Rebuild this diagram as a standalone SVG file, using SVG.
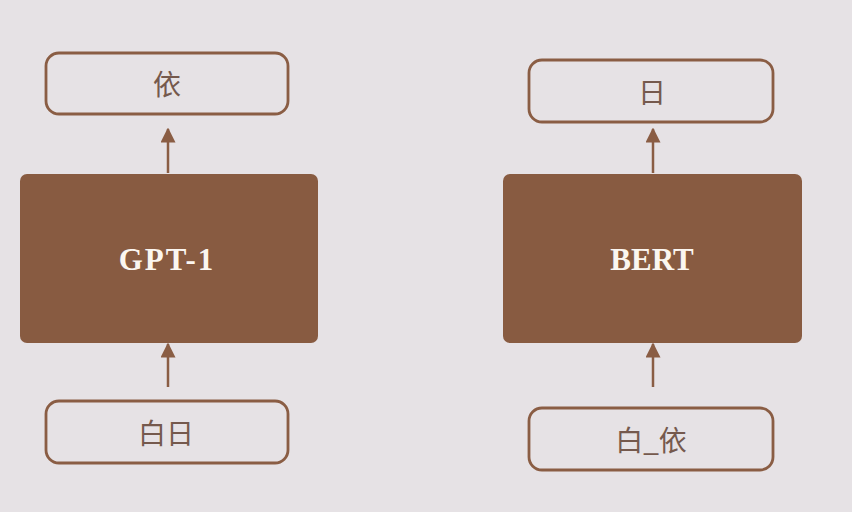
<svg xmlns="http://www.w3.org/2000/svg" width="852" height="512" viewBox="0 0 852 512">
<style>
.bg{fill:#e6e2e5}
.tok{fill:none;stroke:#8a5d44;stroke-width:2.8}
.model{fill:#885b41}
.tt{font-family:"Noto Sans CJK SC","Noto Sans",sans-serif;font-size:28px;fill:#75594d;text-anchor:middle}
.mt{font-family:"Liberation Serif",serif;font-weight:bold;font-size:31px;fill:#fbf6f0;text-anchor:middle}
.arr{stroke:#8a5d44;stroke-width:2.5;fill:none}
</style>
<defs>
<marker id="ah" viewBox="0 0 10 10" refX="9" refY="5" markerWidth="6" markerHeight="6" markerUnits="strokeWidth" orient="auto">
<path d="M0,0 L10,5 L0,10 z" fill="#8a5d44"/>
</marker>
</defs>
<rect class="bg" x="0" y="0" width="852" height="512"/>
<g id="gpt-out"><rect class="tok" x="46" y="53" width="242" height="61" rx="13"/><text class="tt" x="167" y="95">依</text></g>
<g id="gpt"><rect class="model" x="20" y="174" width="298" height="169" rx="7"/><text class="mt" x="167" y="270" letter-spacing="2">GPT-1</text></g>
<g id="gpt-in"><rect class="tok" x="46" y="401" width="242" height="62" rx="13"/><text class="tt" x="166" y="444">白日</text></g>
<g id="bert-out"><rect class="tok" x="529" y="60" width="244" height="62" rx="13"/><text class="tt" x="652" y="103">日</text></g>
<g id="bert"><rect class="model" x="503" y="174" width="299" height="169" rx="7"/><text class="mt" x="652" y="270">BERT</text></g>
<g id="bert-in"><rect class="tok" x="529" y="408" width="244" height="62" rx="13"/><text class="tt" x="651" y="451">白_依</text></g>
<g id="connectors">
<line class="arr" x1="168" y1="173" x2="168" y2="129" marker-end="url(#ah)"/>
<line class="arr" x1="168" y1="387" x2="168" y2="344" marker-end="url(#ah)"/>
<line class="arr" x1="653" y1="173" x2="653" y2="129" marker-end="url(#ah)"/>
<line class="arr" x1="653" y1="387" x2="653" y2="344" marker-end="url(#ah)"/>
</g>
</svg>
